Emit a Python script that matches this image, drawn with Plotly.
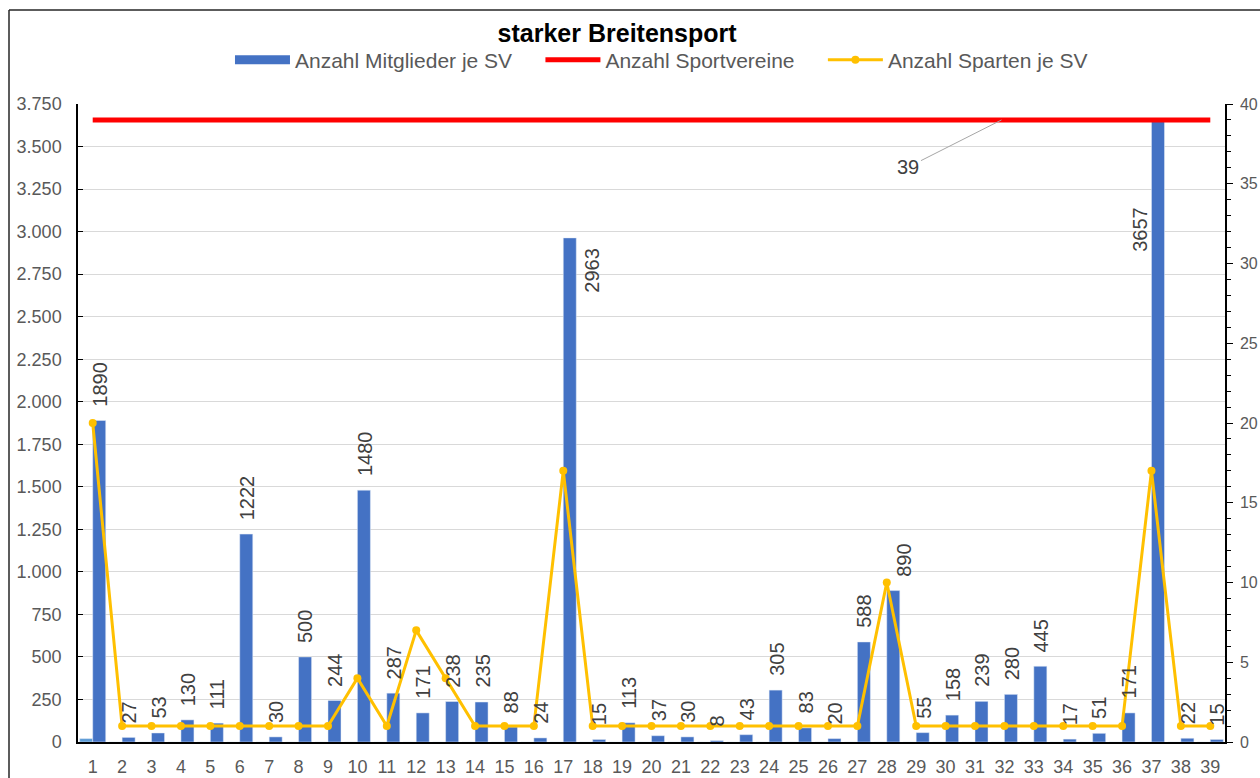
import plotly.graph_objects as go

# ---------------- Daten ----------------
kategorien = [1, 2, 3, 4, 5, 6, 7, 8, 9, 10, 11, 12, 13, 14, 15, 16, 17, 18, 19, 20,
              21, 22, 23, 24, 25, 26, 27, 28, 29, 30, 31, 32, 33, 34, 35, 36, 37, 38, 39]
mitglieder = [1890, 27, 53, 130, 111, 1222, 30, 500, 244, 1480, 287, 171, 238, 235, 88, 24,
              2963, 15, 113, 37, 30, 8, 43, 305, 83, 20, 588, 890, 55, 158, 239, 280, 445,
              17, 51, 171, 3657, 22, 15]
sparten = [20, 1, 1, 1, 1, 1, 1, 1, 1, 4, 1, 7, 4, 1, 1, 1, 17, 1, 1, 1, 1, 1, 1, 1, 1, 1,
           1, 10, 1, 1, 1, 1, 1, 1, 1, 1, 17, 1, 1]
sportvereine = [39, 39, 39, 39, 39, 39, 39, 39, 39, 39, 39, 39, 39, 39, 39, 39, 39, 39, 39, 39,
                39, 39, 39, 39, 39, 39, 39, 39, 39, 39, 39, 39, 39, 39, 39, 39, 39, 39, 39]
nebenreihe = [20, 0, 0, 0, 0, 0, 0, 0, 0, 0, 0, 0, 0, 0, 0, 0, 0, 0, 0, 0,
              0, 0, 0, 0, 0, 0, 0, 0, 0, 0, 0, 0, 0, 0, 0, 0, 0, 0, 0]
y_ticks = [0, 250, 500, 750, 1000, 1250, 1500, 1750, 2000, 2250, 2500, 2750, 3000, 3250, 3500, 3750]

FONT = "Liberation Sans, Arial, sans-serif"
BLAU = "#4472C4"
ROT = "#FF0000"
GELB = "#FFC000"
GRAU_TXT = "#595959"
LABEL_TXT = "#404040"
PAD = "\u00a0" * 4

fig = go.Figure()

fig.add_trace(go.Bar(x=kategorien, y=nebenreihe, marker_color="#5B9BD5",
                     showlegend=False, hoverinfo="skip"))
fig.add_trace(go.Bar(x=kategorien, y=mitglieder, marker_color=BLAU,
                     name="Anzahl Mitglieder je SV", showlegend=False))
# Legendeneintrag für die Säulen (breites Rechteck wie im Original)
fig.add_trace(go.Scatter(x=[None], y=[None], mode="lines", line=dict(color=BLAU, width=9),
                         name="Anzahl Mitglieder je SV" + PAD, hoverinfo="skip"))
fig.add_trace(go.Scatter(x=kategorien, y=sportvereine, yaxis="y2", mode="lines",
                         line=dict(color=ROT, width=5), name="Anzahl Sportvereine" + PAD))
fig.add_trace(go.Scatter(x=kategorien, y=sparten, yaxis="y2", mode="lines+markers",
                         line=dict(color=GELB, width=3), marker=dict(size=8, color=GELB),
                         name="Anzahl Sparten je SV"))

# Datenbeschriftungen (gedreht)
sonder = {17: dict(xshift=29, yanchor="top", yshift=-8),
          28: dict(xshift=17, yanchor="bottom", yshift=12),
          37: dict(xshift=-11, yanchor="top", yshift=-85)}
annotations = []
for k, v in zip(kategorien, mitglieder):
    opts = sonder.get(k, dict(xshift=7, yanchor="bottom", yshift=12))
    annotations.append(dict(x=k, y=v, xref="x", yref="y", text=str(v), textangle=-90,
                            showarrow=False, xanchor="center",
                            font=dict(family=FONT, size=20, color=LABEL_TXT), **opts))

# Beschriftung der Sportvereine-Linie
annotations.append(dict(x=31.9, y=sportvereine[31], xref="x", yref="y2", text="39",
                        showarrow=True, arrowhead=0, arrowwidth=1, arrowcolor="#A6A6A6",
                        ax=-93, ay=47, standoff=0,
                        font=dict(family=FONT, size=20, color=LABEL_TXT)))

fig.update_layout(
    width=1260, height=778,
    margin=dict(l=78, r=35, t=104, b=36, autoexpand=False),
    paper_bgcolor="white", plot_bgcolor="white",
    separators=",.",
    barmode="group", bargap=0.115, bargroupgap=0,
    font=dict(family=FONT, color=GRAU_TXT),
    title=dict(text="<b>starker Breitensport</b>", x=0.47, xref="paper", xanchor="center",
               y=1 - 33 / 778, yref="container", yanchor="middle",
               font=dict(family=FONT, size=25, color="#000000")),
    legend=dict(orientation="h", x=0.5087, xanchor="center", y=1.069, yanchor="middle",
                font=dict(family=FONT, size=21, color=GRAU_TXT), itemwidth=55,
                bgcolor="rgba(0,0,0,0)"),
    xaxis=dict(type="linear", range=[0.5, 39.5], tickmode="array", tickvals=kategorien,
               ticktext=[str(k) for k in kategorien], showgrid=False, zeroline=False,
               showline=True, linecolor="#000000", linewidth=1.5, ticks="",
               ticklabelstandoff=8, automargin=False,
               tickfont=dict(family=FONT, size=18, color=GRAU_TXT)),
    yaxis=dict(range=[0, 3750], tickvals=y_ticks, tickformat=",d", showgrid=True,
               gridcolor="#D9D9D9", gridwidth=1, zeroline=False, showline=True,
               linecolor="#000000", linewidth=1.5, ticks="inside", ticklen=5,
               tickcolor="#000000", ticklabelstandoff=11, automargin=False,
               tickfont=dict(family=FONT, size=18, color=GRAU_TXT)),
    yaxis2=dict(range=[0, 40], overlaying="y", side="right", dtick=5, tick0=0,
                showgrid=False, zeroline=False, showline=True, linecolor="#000000",
                linewidth=1.5, ticks="outside", ticklen=6, tickcolor="#000000",
                ticklabelstandoff=4, automargin=False,
                minor=dict(dtick=1, ticks="outside", ticklen=4, tickcolor="#000000"),
                tickfont=dict(family=FONT, size=16, color=GRAU_TXT)),
    annotations=annotations,
    shapes=[
        dict(type="line", xref="paper", yref="paper", x0=(9 - 78) / 1147, x1=1.2,
             y0=(742 - 10) / 638, y1=(742 - 10) / 638, line=dict(color="#262626", width=1.5)),
        dict(type="line", xref="paper", yref="paper", x0=(9 - 78) / 1147, x1=(9 - 78) / 1147,
             y0=(742 - 10) / 638, y1=-0.2, line=dict(color="#262626", width=1.5)),
    ],
)

fig.write_html("out.html", config={"displayModeBar": False},
               post_script="document.body.style.margin='0px';")
